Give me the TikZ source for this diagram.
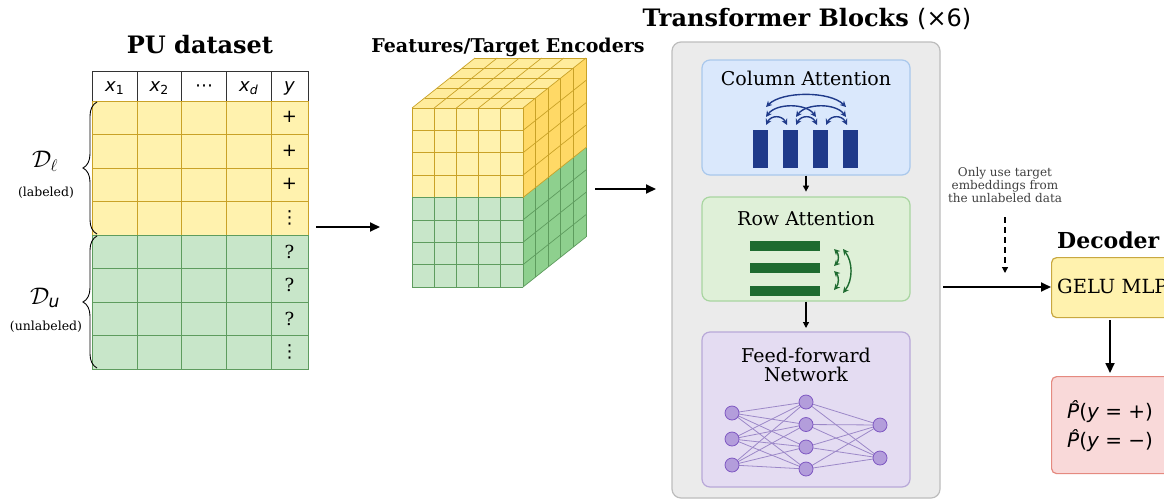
\RequirePackage{fix-cm}
\documentclass[tikz,border=0pt]{standalone}
\usepackage{fontspec}
\setmainfont{DejaVu Serif}
\newfontfamily\dvs{DejaVu Sans}
\usetikzlibrary{arrows.meta,decorations.pathreplacing}
\definecolor{ylight}{HTML}{FFF2AE}
\definecolor{yside}{HTML}{FFD966}
\definecolor{yline}{HTML}{C9A227}
\definecolor{glight}{HTML}{C8E6C9}
\definecolor{gside}{HTML}{8ED08E}
\definecolor{gline}{HTML}{5E9C5E}
\definecolor{greybg}{HTML}{EBEBEB}
\definecolor{greyln}{HTML}{BDBDBD}
\definecolor{cafill}{HTML}{DAE8FC}
\definecolor{caline}{HTML}{A9C8EC}
\definecolor{navy}{HTML}{1F3A8A}
\definecolor{rafill}{HTML}{DFF0D8}
\definecolor{raline}{HTML}{A8D5A0}
\definecolor{dgreen}{HTML}{1E6B30}
\definecolor{fffill}{HTML}{E4DCF2}
\definecolor{ffline}{HTML}{B8A8D8}
\definecolor{nnode}{HTML}{B39DDB}
\definecolor{nnline}{HTML}{7E57C2}
\definecolor{nnedge}{HTML}{9C88C8}
\definecolor{decfill}{HTML}{FFF2AE}
\definecolor{decline}{HTML}{C8A840}
\definecolor{outfill}{HTML}{F9D9D9}
\definecolor{outline}{HTML}{E58A80}
\newcommand{\mv}[2]{{\dvs\itshape #1}\raisebox{-0.35ex}{\dvs\fontsize{12.5}{12.5}\selectfont #2}}
\tikzset{
  ttl/.style={font=\bfseries\fontsize{24}{28}\selectfont, inner sep=0pt},
  bigarrow/.style={line width=1.8pt, -{Triangle[length=10pt,width=9pt]}},
  smallarrow/.style={line width=1.2pt, -{Triangle[length=6pt,width=6pt]}},
  cell/.style={font=\fontsize{18}{20}\selectfont, inner sep=0pt},
  hdr/.style={font=\fontsize{18}{20}\selectfont, inner sep=0pt},
  sub/.style={font=\fontsize{24}{26}\selectfont, inner sep=0pt},
  lbl/.style={font=\fontsize{12.5}{14}\selectfont, inner sep=0pt},
  boxtitle/.style={font=\fontsize{19}{21}\selectfont, inner sep=0pt, align=center},
  nn/.style={circle, fill=nnode, draw=nnline, line width=0.8pt, minimum size=14pt, inner sep=0pt},
  carc/.style={navy, line width=1.4pt, {Stealth[length=6pt,width=6pt]}-{Stealth[length=6pt,width=6pt]}},
  rarc/.style={dgreen, line width=1.4pt, {Stealth[length=6pt,width=6pt]}-{Stealth[length=6pt,width=6pt]}},
}
\begin{document}
\begin{tikzpicture}[x=1pt,y=-1pt]
\useasboundingbox (0,0) rectangle (1164,499);
\clip (0,0) rectangle (1164,499);
\fill[white] (0,0) rectangle (1164,499);

% ---------------- PU dataset ----------------
\node[ttl] (putitle) at (200,45) {PU dataset};
\fill[ylight] (92,101) rectangle (308,235);
\fill[glight] (92,235) rectangle (308,369);
\foreach \x in {137,181.5,226.5,271}{
  \draw[yline, line width=0.8pt] (\x,101) -- (\x,235);
  \draw[gline, line width=0.8pt] (\x,235) -- (\x,369);
}
\foreach \y in {134.5,168,201.5}{
  \draw[yline, line width=0.8pt] (92,\y) -- (308,\y);
}
\foreach \y in {268.5,302,335.5}{
  \draw[gline, line width=0.8pt] (92,\y) -- (308,\y);
}
\draw[yline, line width=1pt] (92,101) rectangle (308,235);
\draw[gline, line width=1pt] (92,235) rectangle (308,369);
\draw[black!80, line width=0.9pt] (92,101) -- (92,71) -- (308,71) -- (308,101);
\foreach \x in {137,181.5,226.5,271}{
  \draw[black!80, line width=0.9pt] (\x,71) -- (\x,101);
}
\node[hdr] (h1) at (114.5,88) {\mv{x}{1}};
\node[hdr] (h2) at (159,88) {\mv{x}{2}};
\node[hdr] (h3) at (204,88) {\dvs ⋯};
\node[hdr] (h4) at (248.5,88) {\mv{x}{\itshape d}};
\node[hdr] (h5) at (289.5,88) {\dvs\itshape y};
\node[cell] (c1) at (289.5,117) {\dvs +};
\node[cell] (c2) at (289.5,151) {\dvs +};
\node[cell] (c3) at (289.5,184) {\dvs +};
\node[cell] (c4) at (289.5,218) {\dvs ⋮};
\node[cell] (c5) at (289.5,252) {?};
\node[cell] (c6) at (289.5,285) {?};
\node[cell] (c7) at (289.5,319) {?};
\node[cell] (c8) at (289.5,352) {\dvs ⋮};
\draw[decorate, decoration={brace, amplitude=14pt}, line width=0.9pt] (97,234) -- (97,102);
\draw[decorate, decoration={brace, amplitude=14pt}, line width=0.9pt] (97,368) -- (97,236);
\node[sub] (dl) at (45,161) {$\mathcal{D}_\ell$};
\node[lbl] (dll) at (46,193) {(labeled)};
\node[sub] (du) at (45,298) {$\mathcal{D}_{\mbox{\dvs\itshape\fontsize{17}{17}\selectfont u}}$};
\node[lbl] (dul) at (46,327) {(unlabeled)};
\coordinate (a1s) at (316,227);
\coordinate (a1e) at (380,227);
\draw[bigarrow] (a1s) -- (a1e);

% ---------------- Cube ----------------
\node[font=\bfseries\fontsize{19}{22}\selectfont, inner sep=0pt] (enctitle) at (508,47) {Features/Target Encoders};
% front
\fill[ylight] (412,108) rectangle (523,197.5);
\fill[glight] (412,197.5) rectangle (523,287);
% top
\fill[ylight!75!yside] (412,108) -- (523,108) -- (586,58) -- (475,58) -- cycle;
% side
\fill[yside] (523,108) -- (586,58) -- (586,147.5) -- (523,197.5) -- cycle;
\fill[gside] (523,197.5) -- (586,147.5) -- (586,237) -- (523,287) -- cycle;
% front grid
\foreach \i in {0,...,5}{
  \draw[yline, line width=0.7pt] ({412+22.2*\i},108) -- ({412+22.2*\i},197.5);
  \draw[gline, line width=0.7pt] ({412+22.2*\i},197.5) -- ({412+22.2*\i},287);
}
\foreach \j in {0,...,4}{
  \draw[yline, line width=0.7pt] (412,{108+22.375*\j}) -- (523,{108+22.375*\j});
}
\foreach \j in {0,...,4}{
  \draw[gline, line width=0.7pt] (412,{197.5+22.375*\j}) -- (523,{197.5+22.375*\j});
}
% top grid
\foreach \i in {0,...,5}{
  \draw[yline, line width=0.7pt] ({412+22.2*\i},108) -- ({475+22.2*\i},58);
}
\foreach \k in {0,...,5}{
  \draw[yline, line width=0.7pt] ({412+12.6*\k},{108-10*\k}) -- ({523+12.6*\k},{108-10*\k});
}
% side grid
\foreach \k in {0,...,5}{
  \draw[yline, line width=0.7pt] ({523+12.6*\k},{108-10*\k}) -- ({523+12.6*\k},{197.5-10*\k});
  \draw[gline, line width=0.7pt] ({523+12.6*\k},{197.5-10*\k}) -- ({523+12.6*\k},{287-10*\k});
}
\foreach \j in {1,...,4}{
  \draw[yline, line width=0.7pt] (523,{108+22.375*\j}) -- (586,{58+22.375*\j});
}
\foreach \j in {1,...,4}{
  \draw[gline, line width=0.7pt] (523,{197.5+22.375*\j}) -- (586,{147.5+22.375*\j});
}
\coordinate (a2s) at (595,189);
\coordinate (a2e) at (656,189);
\draw[bigarrow] (a2s) -- (a2e);

% ---------------- Transformer blocks ----------------
\node[ttl] (trtitle) at (807,19) {Transformer Blocks {\dvs\mdseries (×6)}};
\node[draw=greyln, fill=greybg, line width=1.2pt, rounded corners=9pt, minimum width=268pt, minimum height=456pt, inner sep=0pt] (grey) at (806,270) {};

% Column attention
\node[draw=caline, fill=cafill, line width=1.2pt, rounded corners=8pt, minimum width=208pt, minimum height=115pt, inner sep=0pt] (colbox) at (806,117.5) {};
\node[boxtitle] (coltitle) at (806,78) {Column Attention};
\foreach \x [count=\n] in {760.5,790.5,820.5,850.5}{
  \node[fill=navy, minimum width=15pt, minimum height=38pt, inner sep=0pt] (cb\n) at (\x,149) {};
}
\draw[carc] (766,125) .. controls (771,115) and (782,115) .. (787,125);
\draw[carc] (796,125) .. controls (801,115) and (812,115) .. (817,125);
\draw[carc] (826,125) .. controls (831,115) and (842,115) .. (847,125);
\draw[carc] (766,117) .. controls (776,103) and (806,103) .. (816,117);
\draw[carc] (796,117) .. controls (806,103) and (836,103) .. (846,117);
\draw[carc] (766,107) .. controls (782,91) and (830,91) .. (846,107);

\draw[smallarrow] (colbox.south) -- ++(0,16) coordinate (ca1);

% Row attention
\node[draw=raline, fill=rafill, line width=1.2pt, rounded corners=8pt, minimum width=208pt, minimum height=104pt, inner sep=0pt] (rowbox) at (806,249) {};
\node[boxtitle] (rowtitle) at (806,219) {Row Attention};
\foreach \y [count=\n] in {246,268,291}{
  \node[fill=dgreen, minimum width=70pt, minimum height=10pt, inner sep=0pt] (rb\n) at (785,\y) {};
}
\draw[rarc] (834,249) .. controls (839,254) and (839,261) .. (834,266);
\draw[rarc] (834,271) .. controls (839,276) and (839,284) .. (834,290);
\draw[rarc] (843,249) .. controls (853,262) and (853,280) .. (843,293);

\draw[smallarrow] (rowbox.south) -- (806,328) coordinate (ra1);

% Feed-forward network
\node[draw=ffline, fill=fffill, line width=1.2pt, rounded corners=8pt, minimum width=208pt, minimum height=155pt, inner sep=0pt] (ffbox) at (806,409.5) {};
\node[boxtitle, font=\fontsize{19}{19.5}\selectfont] (fftitle) at (806,365) {Feed-forward\\Network};
\foreach \y [count=\n] in {413,439,465}{
  \coordinate (l1p\n) at (732,\y);
}
\foreach \y [count=\n] in {402,424.5,447,469}{
  \coordinate (l2p\n) at (806,\y);
}
\foreach \y [count=\n] in {425,458}{
  \coordinate (l3p\n) at (880,\y);
}
\foreach \a in {1,2,3}{
  \foreach \b in {1,2,3,4}{
    \draw[nnedge, line width=0.8pt] (l1p\a) -- (l2p\b);
  }
}
\foreach \a in {1,2,3,4}{
  \foreach \b in {1,2}{
    \draw[nnedge, line width=0.8pt] (l2p\a) -- (l3p\b);
  }
}
\foreach \n in {1,2,3}{ \node[nn] (n1\n) at (l1p\n) {}; }
\foreach \n in {1,2,3,4}{ \node[nn] (n2\n) at (l2p\n) {}; }
\foreach \n in {1,2}{ \node[nn] (n3\n) at (l3p\n) {}; }

% ---------------- Decoder ----------------
\node[font=\fontsize{12}{13}\selectfont, align=center, inner sep=0pt, text=black!75] (note) at (1005,185) {Only use target\\embeddings from\\the unlabeled data};
\node[font=\bfseries\fontsize{22}{26}\selectfont, inner sep=0pt, anchor=west] (dectitle) at (1057,240) {Decoder};
\node[draw=decline, fill=decfill, line width=1.2pt, rounded corners=5pt, minimum width=140pt, minimum height=60pt, inner sep=0pt, anchor=north west] (mlp) at (1051,257) {};
\node[font=\fontsize{19.5}{21}\selectfont, inner sep=0pt, anchor=west] (mlptext) at (1057,286) {GELU MLP};
\node[draw=outline, fill=outfill, line width=1.2pt, rounded corners=5pt, minimum width=140pt, minimum height=97pt, inner sep=0pt, anchor=north west] (outbox) at (1051,376) {};
\node[font=\fontsize{20}{24}\selectfont, inner sep=0pt, anchor=west, align=left] (outtext) at (1067,426) {{\dvs\itshape \^{P}}{\dvs(}{\dvs\itshape y}{\dvs\ = +)}\\[5pt]{\dvs\itshape \^{P}}{\dvs(}{\dvs\itshape y}{\dvs\ = −)}};
\coordinate (a3s) at (943,287);
\draw[bigarrow] (a3s) -- (mlp.west |- a3s);
\coordinate (dashs) at (1005,217);
\draw[line width=1.2pt, dash pattern=on 6pt off 4pt, -{Triangle[length=6pt,width=6pt]}] (dashs) -- (1005,273);
\draw[bigarrow] (1110,320) -- (1110,373);
\end{tikzpicture}
\end{document}
